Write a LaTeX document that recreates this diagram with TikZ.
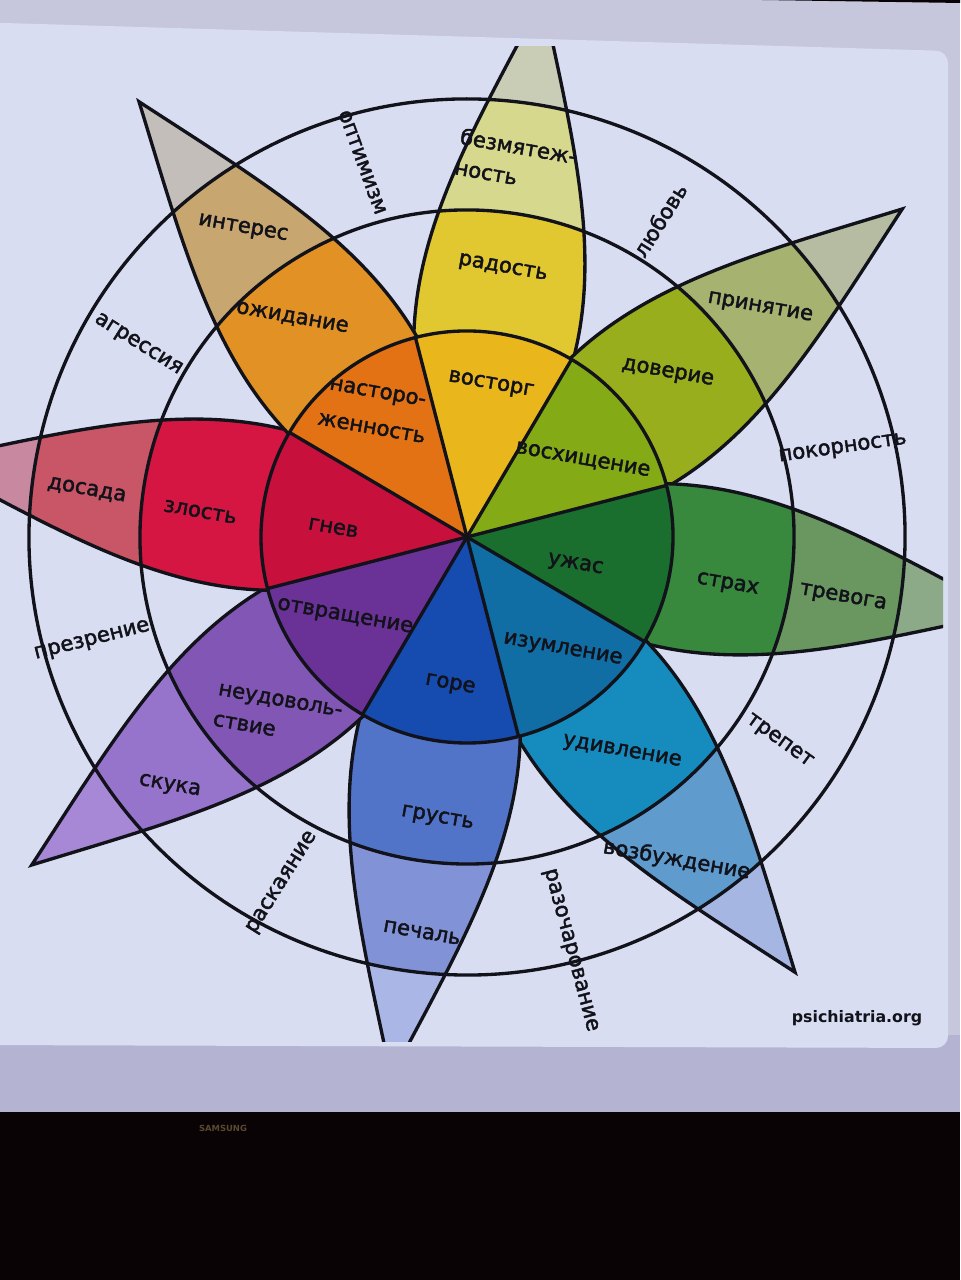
\documentclass[tikz,border=0pt]{standalone}
\usepackage{fontspec}
\setmainfont{DejaVu Sans}
\newfontfamily\wheelfont{DejaVu Sans}[FakeBold=2]
\usetikzlibrary{calc}

\definecolor{panel}{RGB}{217,221,241}
\definecolor{bezel}{RGB}{198,198,221}
\definecolor{bezeldark}{RGB}{180,180,210}
\definecolor{screenoff}{RGB}{9,3,5}
\definecolor{ink}{RGB}{18,18,26}
% petal colours: I intense, B basic, M mild, T tip
\definecolor{Iyel}{RGB}{233,182,28}  \definecolor{Byel}{RGB}{226,200,48}
\definecolor{Myel}{RGB}{214,216,142} \definecolor{Tyel}{RGB}{201,205,182}
\definecolor{Ilim}{RGB}{132,170,22}  \definecolor{Blim}{RGB}{152,174,28}
\definecolor{Mlim}{RGB}{166,179,112} \definecolor{Tlim}{RGB}{181,188,162}
\definecolor{Igrn}{RGB}{26,110,46}   \definecolor{Bgrn}{RGB}{56,136,62}
\definecolor{Mgrn}{RGB}{106,150,96}  \definecolor{Tgrn}{RGB}{140,170,136}
\definecolor{Icya}{RGB}{16,110,165}  \definecolor{Bcya}{RGB}{22,140,190}
\definecolor{Mcya}{RGB}{96,155,205}  \definecolor{Tcya}{RGB}{166,182,226}
\definecolor{Iblu}{RGB}{22,76,176}   \definecolor{Bblu}{RGB}{82,116,200}
\definecolor{Mblu}{RGB}{130,146,214} \definecolor{Tblu}{RGB}{170,182,230}
\definecolor{Ipur}{RGB}{106,50,150}  \definecolor{Bpur}{RGB}{130,86,180}
\definecolor{Mpur}{RGB}{150,116,204} \definecolor{Tpur}{RGB}{166,136,214}
\definecolor{Ired}{RGB}{200,16,60}   \definecolor{Bred}{RGB}{214,22,66}
\definecolor{Mred}{RGB}{200,86,102}  \definecolor{Tred}{RGB}{200,136,160}
\definecolor{Iora}{RGB}{226,114,20}  \definecolor{Bora}{RGB}{226,146,36}
\definecolor{Mora}{RGB}{200,166,112} \definecolor{Tora}{RGB}{196,190,186}

\begin{document}
\begin{tikzpicture}[
  ring/.style={draw=ink, line width=0.95pt},
  petalpath/.style={insert path={(0,0) .. controls (36:2.4) and (3.38,0.75) .. (5.45,0)
      .. controls (3.38,-0.75) and (-36:2.4) .. (0,0) -- cycle}},
  lbl/.style={font=\wheelfont\fontsize{6}{8.8}\selectfont, text=ink, align=center, rotate=-10, inner sep=0pt},
  dyad/.style={font=\wheelfont\fontsize{6}{7}\selectfont, text=ink, inner sep=0pt},
]

\useasboundingbox (0,0) rectangle (9.6,12.8);
\fill[bezel] (0,0) rectangle (9.6,12.8);
\fill[screenoff] (7.6,12.8) -- (9.6,12.8) -- (9.6,12.77) -- cycle;
\fill[bezeldark] (0,1.68) rectangle (9.6,2.45);
\fill[screenoff] (0,0) rectangle (9.6,1.68);
\fill[panel, rounded corners=0.12cm] (-0.3,12.58) -- (9.48,12.29) -- (9.48,2.32) -- (-0.3,2.35) -- cycle;

\begin{scope}
\clip (-0.1,2.38) rectangle (9.43,12.33);
\begin{scope}[shift={(4.67,7.43)}, rotate=-8]

% petals
\foreach \a/\p in {90/yel,45/lim,0/grn,-45/cya,-90/blu,-135/pur,180/red,135/ora}{
  \begin{scope}[rotate=\a]
    \clip[petalpath];
    \fill[fill=T\p] (-1,-3) rectangle (6,3);
    \fill[fill=M\p] (0,0) circle (4.38);
    \fill[fill=B\p] (0,0) circle (3.27);
  \end{scope}
  \draw[ring, rotate=\a, petalpath];
}

% inner disc
\foreach \a/\p in {90/yel,45/lim,0/grn,-45/cya,-90/blu,-135/pur,180/red,135/ora}
  \fill[fill=I\p] (0,0) -- (\a-22.5:2.06) arc[start angle=\a-22.5, end angle=\a+22.5, radius=2.06] -- cycle;
\foreach \a in {22.5,67.5,...,337.5}
  \draw[ring] (0,0) -- (\a:2.06);
\draw[ring] (0,0) circle (2.06) (0,0) circle (3.27) (0,0) circle (4.38);

\node[lbl] (ecstasy) at (89:1.54) {восторг};
\node[lbl, font=\wheelfont\fontsize{6}{10.4}\selectfont] (vigilance) at (134:1.57) {насторо-\\женность};
\node[lbl] (admiration) at (41.6:1.39) {восхищение};
\node[lbl] (terror) at (-6.5:1.12) {ужас};
\node[lbl] (amazement) at (-41.7:1.48) {изумление};
\node[lbl] (grief) at (-88.5:1.49) {горе};
\node[lbl] (loathing) at (-138.7:1.46) {отвращение};
\node[lbl] (rage) at (184:1.34) {гнев};

\node[lbl] (joy) at (90.4:2.71) {радость};
\node[lbl] (trust) at (47.2:2.59) {доверие};
\node[lbl] (fear) at (-2.4:2.65) {страх};
\node[lbl] (surprise) at (-46.2:2.65) {удивление};
\node[lbl] (sadness) at (-88:2.83) {грусть};
\node[lbl, align=left] (disgust) at (-128.7:2.60) {неудоволь-\\ствие};
\node[lbl] (anger) at (182.6:2.68) {злость};
\node[lbl] (anticipation) at (136.6:2.80) {ожидание};

\node[lbl, align=left] (serenity) at (90.6:3.79) {безмятеж-\\ность};
\node[lbl] (acceptance) at (46:3.72) {принятие};
\node[lbl] (apprehension) at (-1.2:3.81) {тревога};
\node[lbl] (distraction) at (-49:3.85) {возбуждение};
\node[lbl] (pensiveness) at (-88.5:3.98) {печаль};
\node[lbl] (boredom) at (-132:3.88) {скука};
\node[lbl] (annoyance) at (181:3.83) {досада};
\node[lbl] (interest) at (134:3.81) {интерес};

\node[dyad, rotate=-70] (optimism) at (113.6:3.89) {оптимизм};
\node[dyad, rotate=58] (love) at (66.7:3.71) {любовь};
\node[dyad, rotate=8] (submission) at (21.2:3.86) {покорность};
\node[dyad, rotate=-36] (awe) at (-25.2:3.73) {трепет};
\node[dyad, rotate=-75] (disapproval) at (-68:4.26) {разочарование};
\node[dyad, rotate=58] (remorse) at (-110.1:3.92) {раскаяние};
\node[dyad, rotate=14] (contempt) at (-156.5:3.89) {презрение};
\node[dyad, rotate=-32] (aggression) at (157.7:3.81) {агрессия};

\end{scope}
\end{scope}

\node[font=\fontsize{4.5}{5}\selectfont\bfseries, text=ink, inner sep=0pt] (source) at (8.57,2.62) {psichiatria.org};
\node[font=\fontsize{2.4}{3}\selectfont\bfseries, text={rgb,255:red,88;green,74;blue,48}, inner sep=0pt] (brand) at (2.23,1.52) {SAMSUNG};

\end{tikzpicture}
\end{document}
